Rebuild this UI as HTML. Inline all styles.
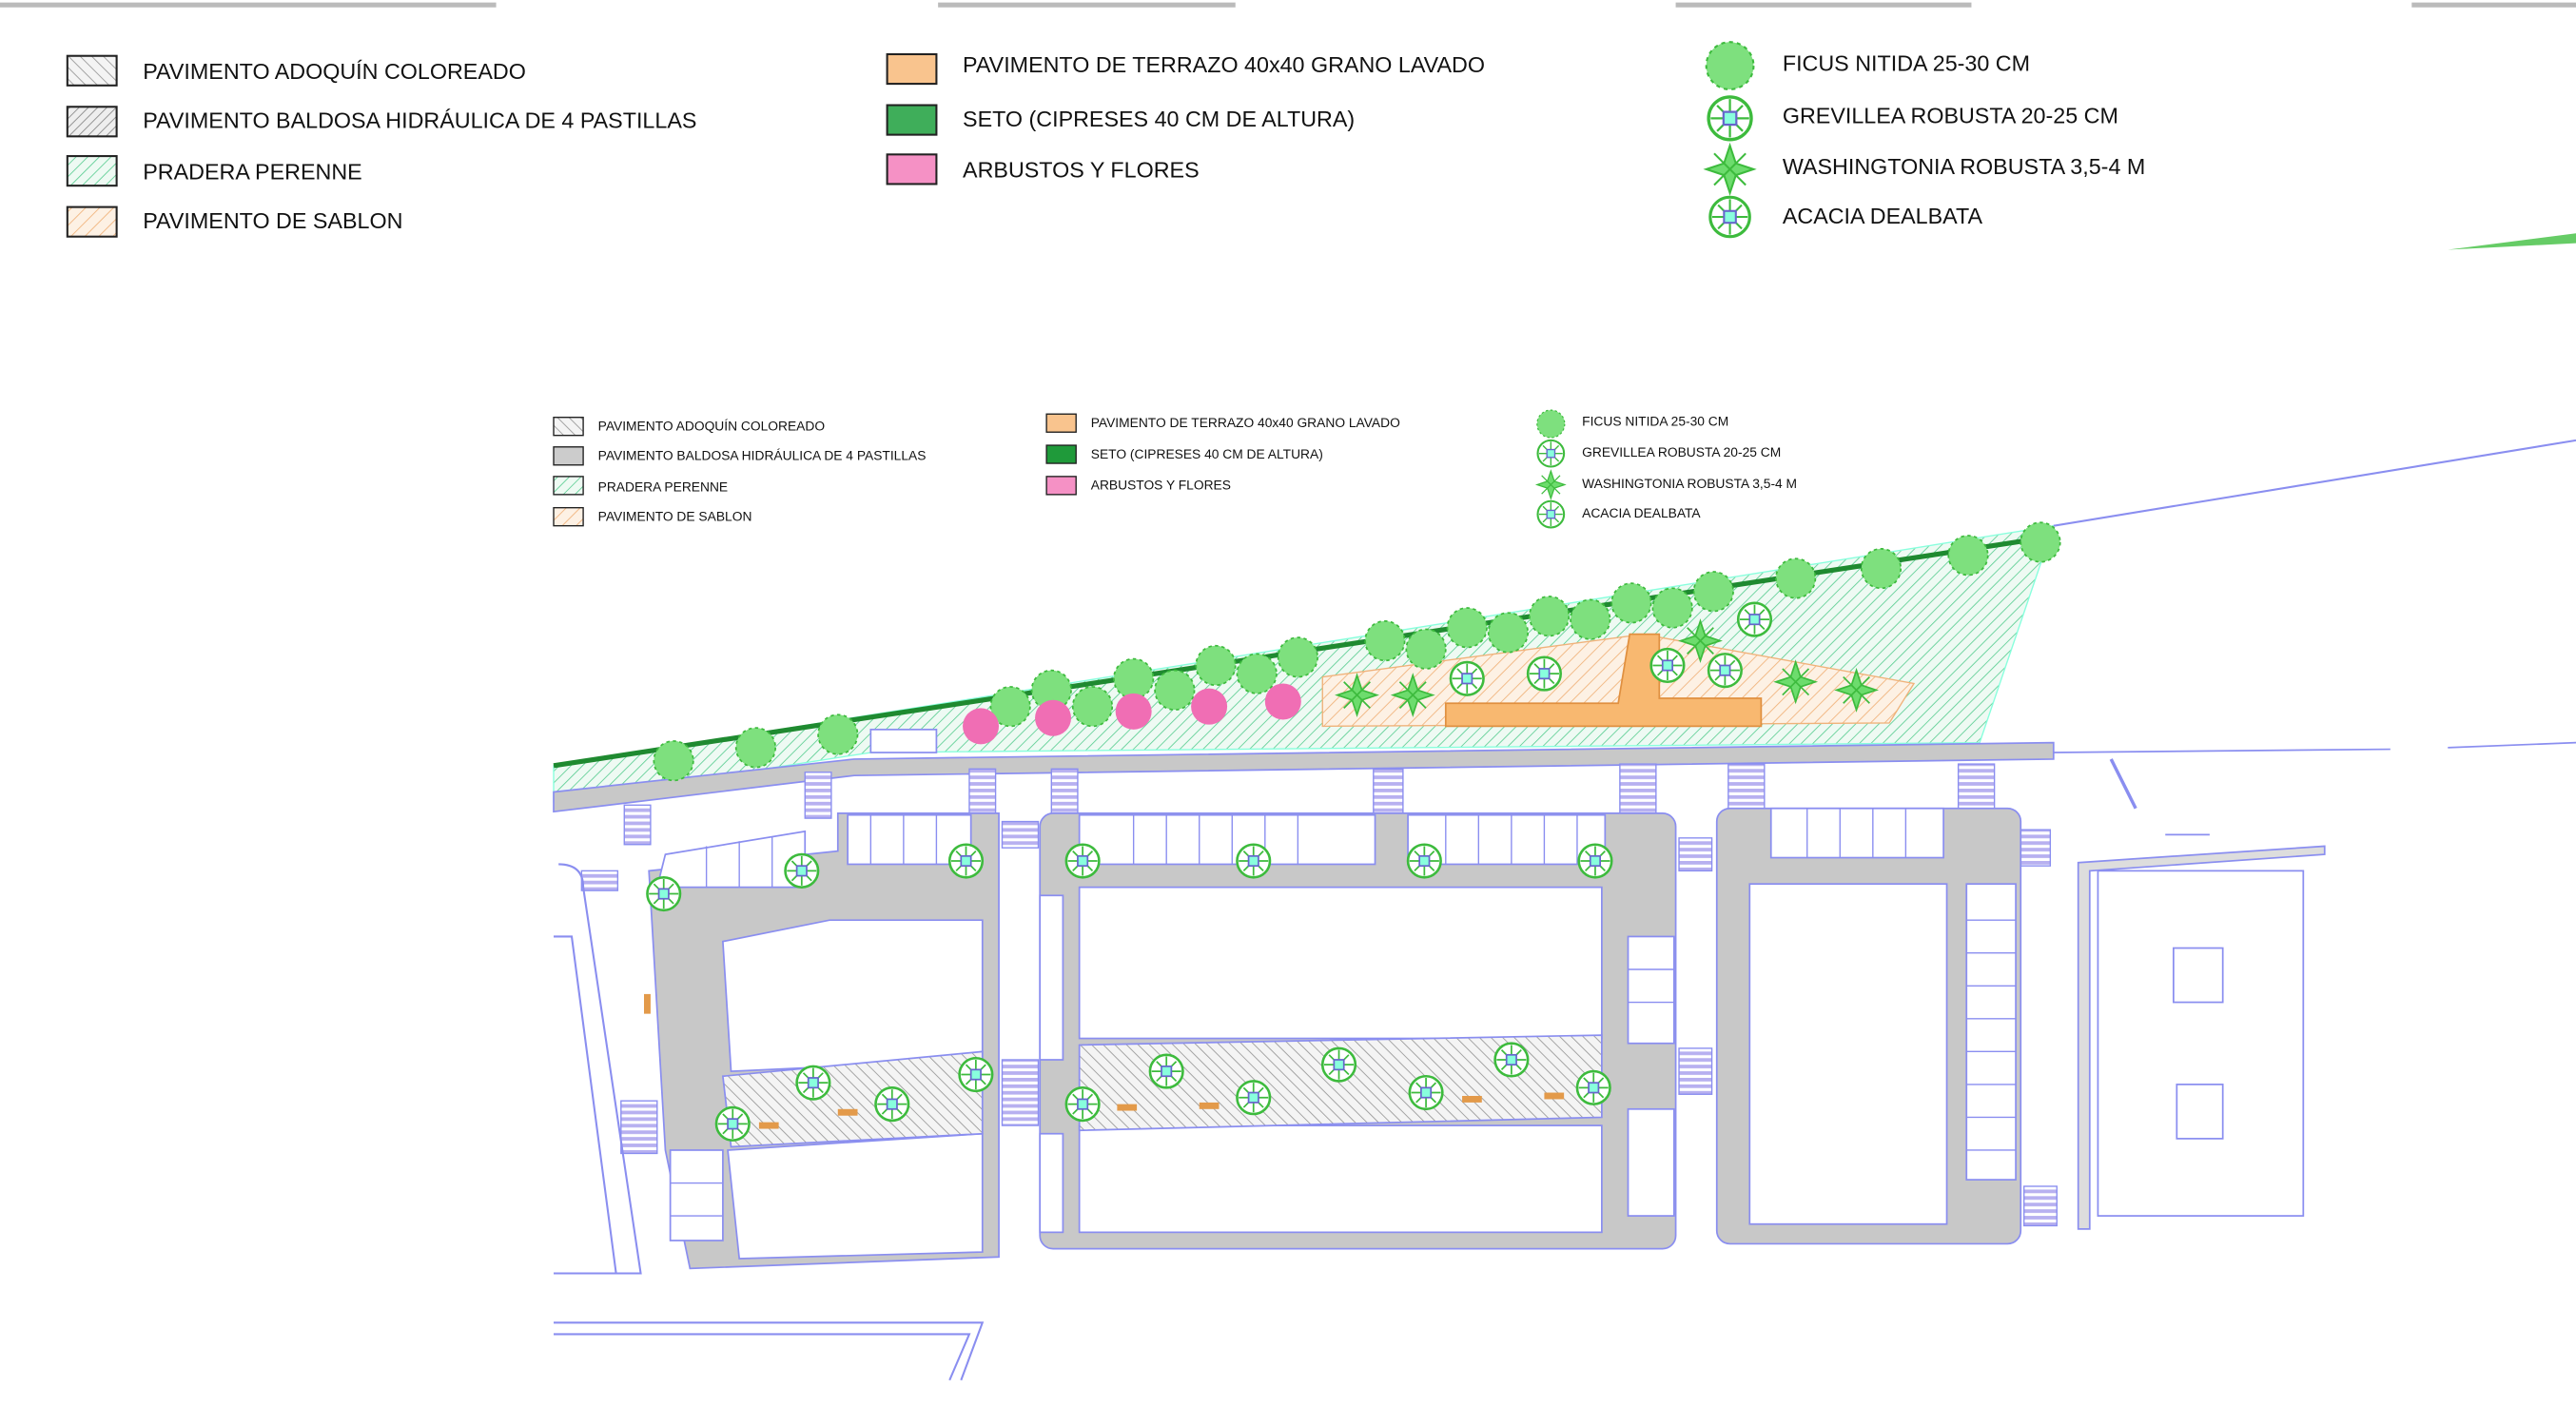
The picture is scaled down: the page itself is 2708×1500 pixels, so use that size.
<!DOCTYPE html>
<html><head><meta charset="utf-8"><style>html,body{margin:0;padding:0;background:#fff}svg{display:block}text{font-family:"Liberation Sans",sans-serif;fill:#111}</style></head>
<body>
<svg width="2708" height="1500" viewBox="0 0 1568 868.5" preserveAspectRatio="none" xmlns="http://www.w3.org/2000/svg">
<defs>
<pattern id="hg" width="5" height="5" patternUnits="userSpaceOnUse" patternTransform="rotate(45)"><rect width="5" height="5" fill="#eefaf3"/><line x1="0" y1="0" x2="0" y2="5" stroke="#5fcf95" stroke-width="1"/></pattern>
<pattern id="hs" width="6" height="6" patternUnits="userSpaceOnUse" patternTransform="rotate(45)"><rect width="6" height="6" fill="#fdf1e4"/><line x1="0" y1="0" x2="0" y2="6" stroke="#f0b27a" stroke-width="1"/></pattern>
<pattern id="hk" width="5" height="5" patternUnits="userSpaceOnUse" patternTransform="rotate(-45)"><rect width="5" height="5" fill="#f4f4f4"/><line x1="0" y1="0" x2="0" y2="5" stroke="#999" stroke-width="1"/></pattern>
<pattern id="hk2" width="4" height="4" patternUnits="userSpaceOnUse" patternTransform="rotate(45)"><rect width="4" height="4" fill="#eee"/><line x1="0" y1="0" x2="0" y2="4" stroke="#888" stroke-width="1"/></pattern>
<pattern id="cw" width="4" height="4" patternUnits="userSpaceOnUse"><rect width="4" height="4" fill="#fff"/><rect width="4" height="2.2" fill="#b7b0f0"/></pattern>
<g id="tr"><circle r="12" fill="#7ee07e"/><circle r="12" fill="none" stroke="#3dbb3d" stroke-width="1" stroke-dasharray="2 2"/></g>
<g id="gr"><circle r="10" fill="#fff" stroke="#3dbb3d" stroke-width="1.5"/><path d="M-9 0H9M0-9V9M-6-6L6 6M-6 6L6-6" stroke="#3dbb3d"/><rect x="-3" y="-3" width="6" height="6" fill="#8fd" stroke="#66c"/></g>
<g id="pl"><path d="M0-12L3-3 12 0 3 3 0 12-3 3-12 0-3-3Z M-8-8L8 8M-8 8L8-8" fill="#6ddc6d" stroke="#3dbb3d"/></g>
</defs>
<g stroke="#bbb" stroke-width="3"><line x1="0" y1="3" x2="302" y2="3"/><line x1="571" y1="3" x2="752" y2="3"/><line x1="1020" y1="3" x2="1200" y2="3"/><line x1="1468" y1="3" x2="1568" y2="3"/></g>
<g stroke="#222" stroke-width="1.2">
<rect x="41" y="34" width="30" height="18" fill="url(#hk)"/>
<rect x="41" y="65" width="30" height="18" fill="url(#hk2)"/>
<rect x="41" y="95" width="30" height="18" fill="url(#hg)"/>
<rect x="41" y="126" width="30" height="18" fill="url(#hs)"/>
<rect x="540" y="33" width="30" height="18" fill="#f9c48e"/>
<rect x="540" y="64" width="30" height="18" fill="#3fae5a"/>
<rect x="540" y="94" width="30" height="18" fill="#f591c5"/>
</g>
<g font-size="13.5">
<text x="87" y="48">PAVIMENTO ADOQUÍN COLOREADO</text>
<text x="87" y="78">PAVIMENTO BALDOSA HIDRÁULICA DE 4 PASTILLAS</text>
<text x="87" y="109">PRADERA PERENNE</text>
<text x="87" y="139">PAVIMENTO DE SABLON</text>
<text x="586" y="44">PAVIMENTO DE TERRAZO 40x40 GRANO LAVADO</text>
<text x="586" y="77">SETO (CIPRESES 40 CM DE ALTURA)</text>
<text x="586" y="108">ARBUSTOS Y FLORES</text>
<text x="1085" y="43">FICUS NITIDA 25-30 CM</text>
<text x="1085" y="75">GREVILLEA ROBUSTA 20-25 CM</text>
<text x="1085" y="106">WASHINGTONIA ROBUSTA 3,5-4 M</text>
<text x="1085" y="136">ACACIA DEALBATA</text>
</g>
<use href="#tr" transform="translate(1053,40) scale(1.2)"/>
<use href="#gr" transform="translate(1053,72) scale(1.3)"/>
<use href="#pl" transform="translate(1053,103) scale(1.2)"/>
<use href="#gr" transform="translate(1053,132) scale(1.2)"/>
<path d="M1490 152L1568 142V148Z" fill="#6c6"/>
<g stroke="#222" stroke-width="0.8">
<rect x="337" y="254" width="18" height="11" fill="url(#hk)"/>
<rect x="337" y="272" width="18" height="11" fill="#ccc"/>
<rect x="337" y="290" width="18" height="11" fill="url(#hg)"/>
<rect x="337" y="309" width="18" height="11" fill="url(#hs)"/>
<rect x="637" y="252" width="18" height="11" fill="#f9c48e"/>
<rect x="637" y="271" width="18" height="11" fill="#1f9a3a"/>
<rect x="637" y="290" width="18" height="11" fill="#f591c5"/>
</g>
<g font-size="8">
<text x="364" y="262">PAVIMENTO ADOQUÍN COLOREADO</text>
<text x="364" y="280">PAVIMENTO BALDOSA HIDRÁULICA DE 4 PASTILLAS</text>
<text x="364" y="299">PRADERA PERENNE</text>
<text x="364" y="317">PAVIMENTO DE SABLON</text>
<text x="664" y="260">PAVIMENTO DE TERRAZO 40x40 GRANO LAVADO</text>
<text x="664" y="279">SETO (CIPRESES 40 CM DE ALTURA)</text>
<text x="664" y="298">ARBUSTOS Y FLORES</text>
<text x="963" y="259">FICUS NITIDA 25-30 CM</text>
<text x="963" y="278">GREVILLEA ROBUSTA 20-25 CM</text>
<text x="963" y="297">WASHINGTONIA ROBUSTA 3,5-4 M</text>
<text x="963" y="315">ACACIA DEALBATA</text>
</g>
<use href="#tr" transform="translate(944,258) scale(0.7)"/>
<use href="#gr" transform="translate(944,276) scale(0.8)"/>
<use href="#pl" transform="translate(944,295) scale(0.7)"/>
<use href="#gr" transform="translate(944,313) scale(0.8)"/>
<path d="M337 466L1250 320L1205 452L530 458L337 488Z" fill="url(#hg)" stroke="#8fd" stroke-width="0.8"/>
<line x1="337" y1="466" x2="1240" y2="328" stroke="#1f8a30" stroke-width="3"/>
<line x1="1250" y1="320" x2="1568" y2="268" stroke="#8a8ef0" stroke-width="1.2"/>
<path d="M805 412L1000 386L1165 416L1150 440L805 442Z" fill="url(#hs)" stroke="#f0b27a" stroke-width="0.8"/>
<path d="M992 386H1010V425H1072V442H880V428H985Z" fill="#f8b870" stroke="#e09040"/>
<rect x="530" y="444" width="40" height="14" fill="#fff" stroke="#8a8ef0"/>
<path d="M337 482L520 462L1250 452V462L520 472L337 494Z" fill="#c8c8c8" stroke="#8a8ef0" stroke-width="1"/>
<line x1="1250" y1="458" x2="1455" y2="456" stroke="#8a8ef0"/>
<line x1="1490" y1="455" x2="1568" y2="452" stroke="#8a8ef0"/>
<line x1="1285" y1="462" x2="1300" y2="492" stroke="#8a8ef0" stroke-width="2"/>
<g fill="url(#cw)" stroke="#8a8ef0" stroke-width="0.8">
<rect x="380" y="490" width="16" height="24"/><rect x="490" y="470" width="16" height="28"/>
<rect x="590" y="468" width="16" height="28"/><rect x="640" y="468" width="16" height="28"/>
<rect x="836" y="468" width="18" height="28"/><rect x="986" y="465" width="22" height="30"/>
<rect x="1052" y="465" width="22" height="30"/><rect x="1192" y="465" width="22" height="30"/>
<rect x="610" y="500" width="22" height="16"/><rect x="1022" y="510" width="20" height="20"/>
<rect x="1228" y="505" width="20" height="22"/><rect x="610" y="645" width="22" height="40"/>
<rect x="1022" y="638" width="20" height="28"/><rect x="1232" y="722" width="20" height="24"/>
<rect x="354" y="530" width="22" height="12"/><rect x="378" y="670" width="22" height="32"/>
</g>
<g fill="#c8c8c8" stroke="#8a8ef0" stroke-width="1">
<path d="M395 530L510 518V495H608V765L420 772L405 700Z"/>
<rect x="633" y="495" width="387" height="265" rx="8"/>
<rect x="1045" y="492" width="185" height="265" rx="8"/>
</g>
<g fill="#fff" stroke="#8a8ef0" stroke-width="1">
<path d="M405 520L490 506V540H400Z"/><rect x="516" y="496" width="75" height="30"/>
<path d="M440 573L505 560H598V645L445 652Z"/>
<path d="M443 700L598 690V762L450 766Z"/>
<rect x="408" y="700" width="32" height="55"/>
<rect x="657" y="496" width="180" height="30"/><rect x="857" y="496" width="120" height="30"/>
<rect x="657" y="540" width="318" height="92"/>
<rect x="657" y="685" width="318" height="65"/>
<rect x="1078" y="492" width="105" height="30"/>
<rect x="1065" y="538" width="120" height="207"/>
<rect x="1197" y="538" width="30" height="180"/>
<rect x="991" y="570" width="28" height="65"/><rect x="991" y="675" width="28" height="65"/>
<rect x="633" y="545" width="14" height="100"/><rect x="633" y="690" width="14" height="60"/>
</g>
<g stroke="#8a8ef0" stroke-width="0.8">
<path d="M690 496V526M710 496V526M730 496V526M750 496V526M770 496V526M790 496V526M880 496V526M900 496V526M920 496V526M940 496V526M960 496V526M1100 492V522M1120 492V522M1140 492V522M1160 492V522M530 496V526M550 496V526M570 496V526M430 515V540M450 512V540M470 509V540M1197 560H1227M1197 580H1227M1197 600H1227M1197 620H1227M1197 640H1227M1197 660H1227M1197 680H1227M1197 700H1227M991 590H1019M991 610H1019M408 720H440M408 740H440"/>
</g>
<path d="M440 655L598 640V690L445 698Z" fill="url(#hk)" stroke="#8a8ef0"/>
<path d="M657 636L975 630V680L657 688Z" fill="url(#hk)" stroke="#8a8ef0"/>
<path d="M1265 525L1415 515V520L1272 530V748H1265Z" fill="#ddd" stroke="#8a8ef0"/>
<rect x="1277" y="530" width="125" height="210" fill="#fff" stroke="#8a8ef0"/>
<rect x="1323" y="577" width="30" height="33" fill="none" stroke="#8a8ef0"/>
<rect x="1325" y="660" width="28" height="33" fill="none" stroke="#8a8ef0"/>
<path d="M1318 508H1345" stroke="#8a8ef0"/>
<g stroke="#8a8ef0" stroke-width="1.2" fill="none">
<path d="M340 526Q355 526 355 540L390 775H337"/><path d="M337 570H348L375 775"/>
<path d="M337 805H598L585 840"/><path d="M337 812H590L578 840"/>
</g>
<g>
<use href="#tr" x="410" y="463"/><use href="#tr" x="460" y="455"/><use href="#tr" x="510" y="447"/>
<use href="#tr" x="615" y="430"/><use href="#tr" x="640" y="420"/><use href="#tr" x="665" y="430"/>
<use href="#tr" x="690" y="413"/><use href="#tr" x="715" y="420"/><use href="#tr" x="740" y="405"/>
<use href="#tr" x="765" y="410"/><use href="#tr" x="790" y="400"/><use href="#tr" x="843" y="390"/>
<use href="#tr" x="868" y="395"/><use href="#tr" x="893" y="382"/><use href="#tr" x="918" y="385"/>
<use href="#tr" x="943" y="375"/><use href="#tr" x="968" y="377"/><use href="#tr" x="993" y="367"/>
<use href="#tr" x="1018" y="370"/><use href="#tr" x="1043" y="360"/><use href="#tr" x="1093" y="352"/>
<use href="#tr" x="1145" y="346"/><use href="#tr" x="1198" y="338"/><use href="#tr" x="1242" y="330"/>
</g>
<g fill="#f06eb4"><circle cx="597" cy="442" r="11"/><circle cx="641" cy="437" r="11"/><circle cx="690" cy="433" r="11"/><circle cx="736" cy="430" r="11"/><circle cx="781" cy="427" r="11"/></g>
<g><use href="#pl" x="826" y="423"/><use href="#pl" x="860" y="423"/><use href="#pl" x="1093" y="415"/><use href="#pl" x="1130" y="420"/><use href="#pl" x="1035" y="390"/>
<use href="#gr" x="893" y="413"/><use href="#gr" x="940" y="410"/><use href="#gr" x="1015" y="405"/><use href="#gr" x="1050" y="408"/><use href="#gr" x="1068" y="377"/>
<use href="#gr" x="404" y="544"/><use href="#gr" x="488" y="530"/><use href="#gr" x="588" y="524"/>
<use href="#gr" x="659" y="524"/><use href="#gr" x="763" y="524"/><use href="#gr" x="867" y="524"/><use href="#gr" x="971" y="524"/>
<use href="#gr" x="495" y="659"/><use href="#gr" x="543" y="672"/><use href="#gr" x="594" y="654"/><use href="#gr" x="446" y="684"/>
<use href="#gr" x="659" y="672"/><use href="#gr" x="710" y="652"/><use href="#gr" x="763" y="668"/><use href="#gr" x="815" y="648"/>
<use href="#gr" x="868" y="665"/><use href="#gr" x="920" y="645"/><use href="#gr" x="970" y="662"/></g>
<g fill="#e39a4a"><rect x="462" y="683" width="12" height="4"/><rect x="510" y="675" width="12" height="4"/><rect x="680" y="672" width="12" height="4"/><rect x="730" y="671" width="12" height="4"/><rect x="890" y="667" width="12" height="4"/><rect x="940" y="665" width="12" height="4"/><rect x="392" y="605" width="4" height="12"/></g>
</svg>
</body></html>
